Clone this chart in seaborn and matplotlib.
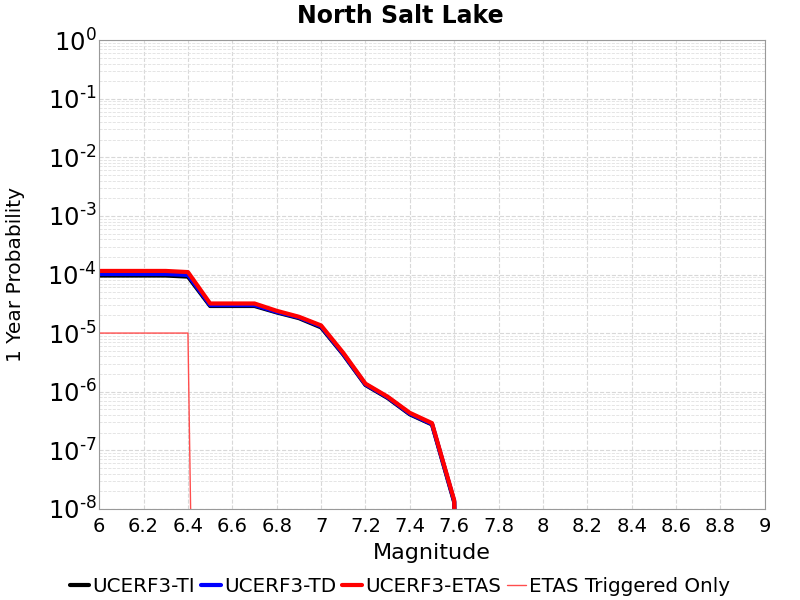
import numpy as np
import pandas as pd
import matplotlib
matplotlib.use("Agg")
import matplotlib.pyplot as plt
from matplotlib.ticker import LogLocator, FixedLocator, FuncFormatter
from matplotlib.lines import Line2D
import seaborn as sns

# magnitudes (bin values)
mags = [6.0, 6.1, 6.2, 6.3, 6.4, 6.5, 6.6, 6.7, 6.8, 6.9, 7.0, 7.1, 7.2, 7.3, 7.4, 7.5, 7.6, 7.7]
# 1 year probabilities (last bin ~ 0, shown as tiny value on log axis)
prob_ti = [9.6e-5, 9.6e-5, 9.6e-5, 9.6e-5, 9.2e-5, 2.9e-5, 2.9e-5, 2.9e-5, 2.25e-5, 1.8e-5,
           1.25e-5, 4.3e-6, 1.3e-6, 7.8e-7, 4.1e-7, 2.75e-7, 1.3e-8, 1e-30]
prob_td = [1.02e-4, 1.02e-4, 1.02e-4, 1.02e-4, 9.8e-5, 3.0e-5, 3.0e-5, 3.0e-5, 2.3e-5, 1.85e-5,
           1.3e-5, 4.4e-6, 1.33e-6, 8.0e-7, 4.2e-7, 2.8e-7, 1.35e-8, 1e-30]
prob_etas = [1.15e-4, 1.15e-4, 1.15e-4, 1.15e-4, 1.1e-4, 3.2e-5, 3.2e-5, 3.2e-5, 2.4e-5, 1.9e-5,
             1.35e-5, 4.6e-6, 1.37e-6, 8.2e-7, 4.35e-7, 2.9e-7, 1.4e-8, 1e-30]
trig_mags = [6.0, 6.1, 6.2, 6.3, 6.4, 6.5]
prob_trig = [1e-5, 1e-5, 1e-5, 1e-5, 1e-5, 1e-30]

x_ticks = [6, 6.2, 6.4, 6.6, 6.8, 7, 7.2, 7.4, 7.6, 7.8, 8, 8.2, 8.4, 8.6, 8.8, 9]
x_labels = ["6", "6.2", "6.4", "6.6", "6.8", "7", "7.2", "7.4", "7.6", "7.8",
            "8", "8.2", "8.4", "8.6", "8.8", "9"]

names = ["UCERF3-TI", "UCERF3-TD", "UCERF3-ETAS"]
df = pd.concat([
    pd.DataFrame({"mag": mags, "prob": p, "model": n})
    for n, p in zip(names, [prob_ti, prob_td, prob_etas])
])
df_trig = pd.DataFrame({"mag": trig_mags, "prob": prob_trig, "model": "ETAS Triggered Only"})

sns.set_style("white")
plt.rcParams['font.family'] = ['DejaVu Sans']
plt.rcParams.update({"text.color": "black", "axes.labelcolor": "black",
                     "xtick.color": "black", "ytick.color": "black"})

trig_color = (1.0, 0.3, 0.3)

fig = plt.figure(figsize=(8, 6), dpi=100)
ax = fig.add_axes([0.124, 0.152, 0.832, 0.781])

sns.lineplot(data=df, x="mag", y="prob", hue="model",
             palette={"UCERF3-TI": "black", "UCERF3-TD": "blue", "UCERF3-ETAS": "red"},
             linewidth=3, ax=ax, legend=False, sort=False)
sns.lineplot(data=df_trig, x="mag", y="prob", color=trig_color, linewidth=1,
             ax=ax, legend=False)

ax.set_yscale("log")
ax.set_xlim(6, 9)
ax.set_ylim(1e-8, 1)
ax.xaxis.set_major_locator(FixedLocator(x_ticks))
ax.set_xticklabels(x_labels)
ax.yaxis.set_major_locator(LogLocator(base=10, numticks=20))
ax.yaxis.set_minor_locator(LogLocator(base=10, subs=np.arange(2, 10), numticks=100))


def fmt_pow(v, pos):
    e = int(round(np.log10(v)))
    if e < 0:
        return r"$\mathregular{10^{\text{-}%d}}$" % (-e)
    return r"$\mathregular{10^{%d}}$" % e


ax.yaxis.set_major_formatter(FuncFormatter(fmt_pow))

ax.grid(which="major", axis="both", color="#d8d8d8", linestyle="--", linewidth=0.8)
ax.grid(which="minor", axis="y", color="#e0e0e0", linestyle="--", linewidth=0.6)
ax.set_axisbelow(True)
for s in ax.spines.values():
    s.set_color("#999999")
ax.tick_params(axis="x", labelsize=14, length=0, pad=6)
ax.tick_params(axis="y", labelsize=17.5, length=0, pad=2)
ax.tick_params(which="minor", length=0)

ax.set_xlabel("Magnitude", fontsize=16, labelpad=5)
ax.set_ylabel("1 Year Probability", fontsize=14.5)
ax.yaxis.set_label_coords(-0.111, 0.5)
ax.set_title("North Salt Lake", fontsize=17, fontweight="bold", pad=12.5, x=0.452)

handles = [Line2D([], [], color="black", lw=3), Line2D([], [], color="blue", lw=3),
           Line2D([], [], color="red", lw=3), Line2D([], [], color=trig_color, lw=1)]
fig.legend(handles, names + ["ETAS Triggered Only"], loc="lower center",
           bbox_to_anchor=(0.5, -0.023), ncol=4, frameon=False, fontsize=14.3,
           handlelength=1.0, handletextpad=0.15, columnspacing=0.3)

fig.savefig("out.png", dpi=100)
